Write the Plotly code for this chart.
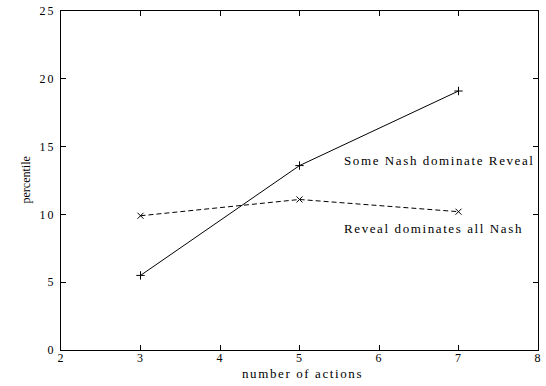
import plotly.graph_objects as go

actions = [3, 5, 7]
some_nash = [5.5, 13.6, 19.1]
reveal_all = [9.9, 11.1, 10.2]
x_ticks = [2, 3, 4, 5, 6, 7, 8]
y_ticks = [0, 5, 10, 15, 20, 25]
label_some = "Some Nash dominate Reveal"
label_reveal = "Reveal dominates all Nash"
x_title = "number of actions"
y_title = "percentile"

FONT = "Liberation Serif, Times New Roman, serif"


def spaced(t, ls):
    return '<span style="letter-spacing:%spx">%s</span>' % (ls, t)


fig = go.Figure()
fig.add_trace(go.Scatter(
    x=actions, y=some_nash, mode="lines+markers",
    line=dict(color="black", width=1),
    marker=dict(symbol="cross-thin", size=6, line=dict(color="black", width=1)),
    showlegend=False))
fig.add_trace(go.Scatter(
    x=actions, y=reveal_all, mode="lines+markers",
    line=dict(color="black", width=1, dash="5px,3px"),
    marker=dict(symbol="x-thin", size=6, line=dict(color="black", width=1)),
    showlegend=False))

axis_common = dict(
    showgrid=False, zeroline=False, showline=True, linecolor="black", linewidth=1,
    mirror="ticks", ticks="inside", ticklen=5, tickcolor="black", tickwidth=1,
    tickfont=dict(family=FONT, size=12, color="black"),
)
fig.update_xaxes(range=[2, 8], tickvals=x_ticks,
                 ticktext=[spaced(str(v), 1) for v in x_ticks],
                 ticklabelstandoff=-3, **axis_common)
fig.update_yaxes(range=[0, 25], tickvals=y_ticks,
                 ticktext=[spaced(str(v), 2) for v in y_ticks],
                 ticklabelstandoff=2, **axis_common)

fig.add_annotation(x=0.5, y=0, xref="paper", yref="paper", yshift=-23, xshift=3,
                   text=spaced(x_title, 1.6),
                   showarrow=False, yanchor="middle", font=dict(family=FONT, size=13, color="black"))
fig.add_annotation(x=0, y=0.5, xref="paper", yref="paper", xshift=-45, text=y_title,
                   textangle=-90, showarrow=False, font=dict(family=FONT, size=12, color="black"))
fig.add_annotation(x=5.53, y=14.0, xref="x", yref="y", text=spaced(label_some, 1.6),
                   showarrow=False, xanchor="left", yanchor="middle",
                   font=dict(family=FONT, size=13, color="black"))
fig.add_annotation(x=5.53, y=8.95, xref="x", yref="y", text=spaced(label_reveal, 1.6),
                   showarrow=False, xanchor="left", yanchor="middle",
                   font=dict(family=FONT, size=13, color="black"))

fig.update_layout(
    width=546, height=386,
    margin=dict(l=61, r=4, t=8, b=36),
    paper_bgcolor="white", plot_bgcolor="white",
    font=dict(family=FONT, color="black"),
)
fig.write_html("out.html")
